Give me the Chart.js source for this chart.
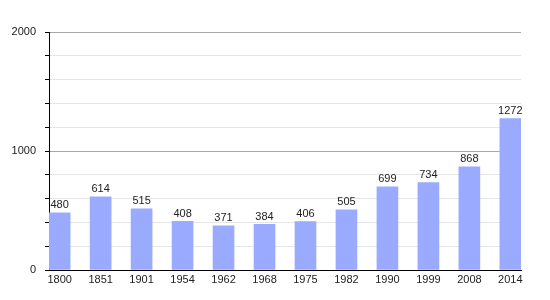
<!DOCTYPE html>
<html>
<head>
<meta charset="utf-8">
<script src="https://cdn.jsdelivr.net/npm/chart.js@4/dist/chart.umd.min.js"></script>
<style>
  html, body { margin: 0; padding: 0; background: #fff; }
  #wrap { width: 550px; height: 300px; }
</style>
</head>
<body>
<div id="wrap"><canvas id="chart"></canvas></div>
<script>
const years = ['1800', '1851', '1901', '1954', '1962', '1968', '1975', '1982', '1990', '1999', '2008', '2014'];
const population = [480, 614, 515, 408, 371, 384, 406, 505, 699, 734, 868, 1272];
const yMax = 2000;
const yStep = 200;

const FONT = "'Liberation Sans', Arial, sans-serif";

const valueLabels = {
  id: 'valueLabels',
  afterDatasetsDraw(chart) {
    const { ctx } = chart;
    const meta = chart.getDatasetMeta(0);
    ctx.save();
    ctx.font = `11px ${FONT}`;
    ctx.fillStyle = '#222';
    ctx.textAlign = 'center';
    ctx.textBaseline = 'bottom';
    meta.data.forEach((bar, i) => {
      ctx.fillText(String(population[i]), bar.x, bar.y - 2);
    });
    ctx.restore();
  }
};

new Chart(document.getElementById('chart'), {
  type: 'bar',
  data: {
    datasets: [{
      data: years.map((_, i) => ({ x: i, y: population[i] })),
      backgroundColor: '#99aaff',
      borderWidth: 0,
      barThickness: 21,
    }]
  },
  options: {
    responsive: true,
    maintainAspectRatio: false,
    animation: false,
    layout: { padding: { top: 32, right: 29, left: 0, bottom: 0 } },
    plugins: { legend: { display: false }, tooltip: { enabled: false } },
    scales: {
      x: {
        type: 'linear',
        offset: false,
        min: -0.26,
        max: 11.26,
        afterBuildTicks(scale) { scale.ticks = years.map((_, i) => ({ value: i })); },
        afterFit(scale) { scale.height = 30; },
        grid: { display: false, drawTicks: false },
        border: { color: '#000', width: 1 },
        ticks: {
          padding: 3,
          color: '#222',
          font: { family: FONT, size: 11 },
          maxRotation: 0,
          autoSkip: false,
          callback: v => years[v] ?? '',
        }
      },
      y: {
        min: 0,
        max: yMax,
        afterFit(scale) { scale.width = 49; },
        grid: {
          color: c => c.tick.value === 0 ? '#000' : (c.tick.value % 1000 === 0 ? '#a8a8a8' : '#e6e6e6'),
          tickColor: '#000',
          tickLength: 4,
        },
        border: { color: '#000', width: 1 },
        ticks: {
          stepSize: yStep,
          padding: 9,
          color: '#222',
          font: { family: FONT, size: 11 },
          callback: v => v % 1000 === 0 ? String(v) : '',
        }
      }
    }
  },
  plugins: [valueLabels]
});
</script>
</body>
</html>
